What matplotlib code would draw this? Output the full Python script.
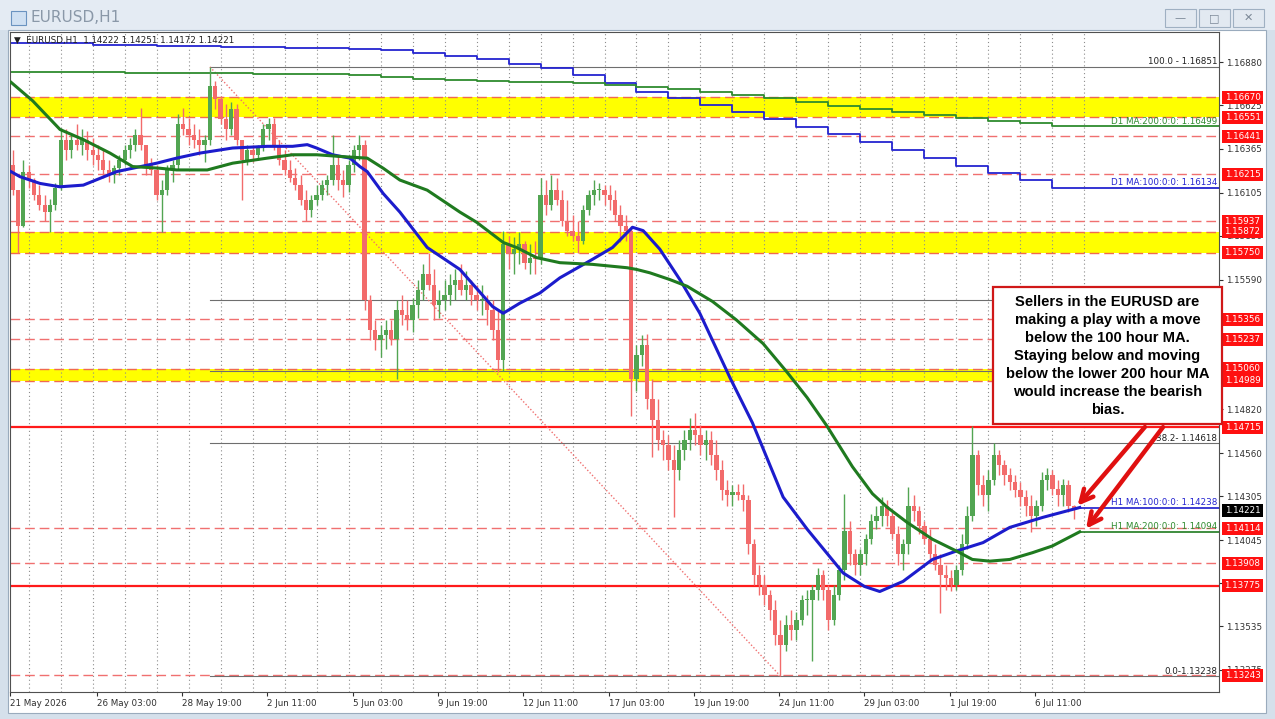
import numpy as np
import matplotlib.pyplot as plt
from matplotlib.patches import Rectangle
import matplotlib.transforms as mtransforms

plt.rcParams['font.family'] = ['DejaVu Sans']

# ---------------------------------------------------------------
# Data (grouped into 4 hour candles,
# open = previous close)
# ---------------------------------------------------------------
firstOpen = 1.1627

highs = [
    1.1636, 1.1612, 1.1630, 1.1627, 1.1619, 1.1615, 1.1609, 1.1607, 1.1616, 1.1649,
    1.1648, 1.1646, 1.1651, 1.1648, 1.1647, 1.1643, 1.1639, 1.1636, 1.1630, 1.1627,
    1.1633, 1.1639, 1.1643, 1.1648, 1.1661, 1.1636, 1.1631, 1.1627, 1.1618, 1.1627,
    1.1630, 1.1657, 1.1661, 1.1655, 1.1651, 1.1648, 1.1645, 1.16851, 1.1677, 1.1668,
    1.1663, 1.1664, 1.1663, 1.1642, 1.1639, 1.1639, 1.1639, 1.1651, 1.1655, 1.1655,
    1.1642, 1.1636, 1.1630, 1.1625, 1.1621, 1.1612, 1.1609, 1.1615, 1.1618, 1.1621,
    1.1645, 1.1633, 1.1624, 1.1630, 1.1639, 1.1645, 1.1642, 1.1550, 1.1535, 1.1532,
    1.1535, 1.1535, 1.1547, 1.1550, 1.1547, 1.1548, 1.1559, 1.1568, 1.1575, 1.1565,
    1.1553, 1.1559, 1.1562, 1.1565, 1.1568, 1.1564, 1.1559, 1.1556, 1.1556, 1.1550,
    1.1547, 1.1541, 1.1588, 1.1585, 1.1584, 1.1587, 1.1582, 1.1580, 1.1582, 1.1619,
    1.1618, 1.1621, 1.1619, 1.1612, 1.1606, 1.1597, 1.1594, 1.1603, 1.1612, 1.1618,
    1.1616, 1.1615, 1.1615, 1.1612, 1.1603, 1.1597, 1.1591, 1.1520, 1.1526, 1.1527,
    1.1500, 1.1488, 1.1470, 1.1467, 1.1461, 1.1464, 1.1470, 1.1477, 1.1480, 1.1473,
    1.1470, 1.1469, 1.1464, 1.1452, 1.1440, 1.1437, 1.1438, 1.1438, 1.1431, 1.1405,
    1.1390, 1.1384, 1.1375, 1.1369, 1.1357, 1.1360, 1.1363, 1.1362, 1.1372, 1.1375,
    1.1378, 1.1388, 1.1387, 1.1378, 1.1378, 1.1390, 1.1432, 1.1416, 1.1399, 1.1399,
    1.1408, 1.1420, 1.1425, 1.1430, 1.1428, 1.1422, 1.1413, 1.1405, 1.1436, 1.1431,
    1.1425, 1.1416, 1.1411, 1.1402, 1.1396, 1.1390, 1.1387, 1.1390, 1.1408, 1.1425,
    1.1472, 1.1458, 1.1443, 1.1446, 1.1462, 1.1458, 1.1452, 1.1447, 1.1443, 1.1439,
    1.1434, 1.1431, 1.1428, 1.1445, 1.1447, 1.1446, 1.1440, 1.1441, 1.1440, 1.14251,
]

lows = [
    1.1609, 1.1575, 1.1590, 1.1613, 1.1606, 1.1600, 1.1594, 1.1587, 1.1600, 1.1612,
    1.1630, 1.1631, 1.1636, 1.1633, 1.1630, 1.1627, 1.1624, 1.1619, 1.1617, 1.1616,
    1.1621, 1.1627, 1.1631, 1.1635, 1.1636, 1.1621, 1.1621, 1.1606, 1.1587, 1.1609,
    1.1617, 1.1624, 1.1645, 1.1639, 1.1637, 1.1633, 1.1629, 1.1639, 1.1660, 1.1651,
    1.1642, 1.1645, 1.1639, 1.1606, 1.1627, 1.1629, 1.1630, 1.1635, 1.1642, 1.1636,
    1.1627, 1.1621, 1.1617, 1.1612, 1.1603, 1.1594, 1.1596, 1.1603, 1.1606, 1.1609,
    1.1615, 1.1612, 1.1608, 1.1611, 1.1623, 1.1630, 1.1541, 1.1523, 1.1517, 1.1513,
    1.1518, 1.1520, 1.1500, 1.1532, 1.1529, 1.1528, 1.1536, 1.1547, 1.1553, 1.1535,
    1.1536, 1.1541, 1.1544, 1.1547, 1.1550, 1.1547, 1.1544, 1.1541, 1.1538, 1.1532,
    1.1523, 1.1504, 1.1505, 1.1565, 1.1562, 1.1568, 1.1565, 1.1562, 1.1562, 1.1568,
    1.1597, 1.1600, 1.1603, 1.1591, 1.1585, 1.1582, 1.1575, 1.1580, 1.1597, 1.1603,
    1.1606, 1.1603, 1.1600, 1.1594, 1.1581, 1.1582, 1.1478, 1.1493, 1.1508, 1.1482,
    1.1454, 1.1458, 1.1452, 1.1446, 1.1418, 1.1440, 1.1452, 1.1458, 1.1461, 1.1455,
    1.1452, 1.1449, 1.1440, 1.1428, 1.1425, 1.1425, 1.1428, 1.1422, 1.1396, 1.1378,
    1.1372, 1.1366, 1.1357, 1.1342, 1.13238, 1.1339, 1.1345, 1.1345, 1.1354, 1.1360,
    1.1333, 1.1369, 1.1369, 1.1351, 1.1354, 1.1369, 1.1381, 1.1390, 1.1384, 1.1384,
    1.1390, 1.1402, 1.1411, 1.1413, 1.1413, 1.1405, 1.1390, 1.1387, 1.1396, 1.1416,
    1.1408, 1.1402, 1.1393, 1.1387, 1.1361, 1.1375, 1.1374, 1.1375, 1.1384, 1.1399,
    1.1416, 1.1431, 1.1425, 1.1422, 1.1437, 1.1443, 1.1437, 1.1434, 1.1430, 1.1425,
    1.1419, 1.1409, 1.1413, 1.1422, 1.1434, 1.1431, 1.1425, 1.1425, 1.1421, 1.14172,
]

closes = [
    1.1612, 1.1591, 1.1623, 1.1618, 1.1609, 1.1603, 1.1599, 1.1603, 1.1613, 1.1642,
    1.1636, 1.1642, 1.1639, 1.1642, 1.1636, 1.1633, 1.1630, 1.1624, 1.1621, 1.1625,
    1.1630, 1.1636, 1.1639, 1.1645, 1.1639, 1.1627, 1.1624, 1.1609, 1.1612, 1.1624,
    1.1627, 1.1651, 1.1648, 1.1645, 1.1642, 1.1639, 1.1642, 1.1674, 1.1666, 1.1654,
    1.1648, 1.1660, 1.1642, 1.1630, 1.1636, 1.1633, 1.1637, 1.1648, 1.1651, 1.1639,
    1.1630, 1.1624, 1.1619, 1.1615, 1.1606, 1.1600, 1.1606, 1.1609, 1.1615, 1.1618,
    1.1627, 1.1618, 1.1615, 1.1627, 1.1636, 1.1639, 1.1547, 1.1529, 1.1523, 1.1526,
    1.1529, 1.1524, 1.1541, 1.1538, 1.1535, 1.1544, 1.1553, 1.1562, 1.1556, 1.1544,
    1.1547, 1.1550, 1.1556, 1.1559, 1.1553, 1.1556, 1.1550, 1.1547, 1.1547, 1.1541,
    1.1529, 1.1511, 1.1580, 1.1574, 1.1577, 1.1580, 1.1569, 1.1572, 1.1571, 1.1609,
    1.1603, 1.1612, 1.1606, 1.1594, 1.1588, 1.1585, 1.1582, 1.1600, 1.1609, 1.1612,
    1.1612, 1.1609, 1.1606, 1.1597, 1.1591, 1.1588, 1.1500, 1.1514, 1.1520, 1.1488,
    1.1476, 1.1464, 1.1461, 1.1452, 1.1446, 1.1458, 1.1464, 1.1470, 1.1467, 1.1461,
    1.1464, 1.1455, 1.1446, 1.1434, 1.1431, 1.1433, 1.1431, 1.1428, 1.1402, 1.1384,
    1.1378, 1.1372, 1.1363, 1.1348, 1.1342, 1.1354, 1.1351, 1.1357, 1.1369, 1.1369,
    1.1375, 1.1384, 1.1375, 1.1357, 1.1372, 1.1387, 1.1410, 1.1396, 1.1390, 1.1396,
    1.1405, 1.1416, 1.1419, 1.1425, 1.1419, 1.1408, 1.1396, 1.1402, 1.1425, 1.1422,
    1.1413, 1.1405, 1.1396, 1.1390, 1.1384, 1.1382, 1.1378, 1.1387, 1.1402, 1.1419,
    1.1455, 1.1437, 1.1431, 1.1440, 1.1455, 1.1449, 1.1443, 1.1439, 1.1434, 1.1430,
    1.1425, 1.1419, 1.1425, 1.1440, 1.1443, 1.1435, 1.1431, 1.1437, 1.1425, 1.14221,
]

# H1 moving averages, (hour from chart start, price)
ma100Hours = [0.75, 7.5, 22.5, 37.5, 55, 80, 110, 125, 142.5, 167, 193, 212, 223, 230,
              242, 255, 262.5, 268, 280, 292.5, 313, 337.5, 362, 370, 382.5, 397.5,
              412.5, 437, 452, 467, 475, 487.5, 502.5, 517.5, 540, 557, 580, 598, 625,
              641, 652.5, 670, 692, 710, 730, 750, 775, 802.5]
ma100Price = [1.1623, 1.1620, 1.1616, 1.1614, 1.1615, 1.1623, 1.1628, 1.1631, 1.1634,
              1.1637, 1.1638, 1.1638, 1.1639, 1.1637, 1.1633, 1.1631, 1.1626, 1.1623,
              1.1610, 1.1599, 1.1578, 1.1565, 1.1543, 1.1539, 1.1545, 1.1551, 1.1560,
              1.1571, 1.1578, 1.1590, 1.1588, 1.1577, 1.1559, 1.1539, 1.1501, 1.1474,
              1.1430, 1.1411, 1.1385, 1.1377, 1.1374, 1.1380, 1.1393, 1.1398, 1.1403,
              1.1412, 1.1418, 1.14238]

ma200Hours = [0.75, 17, 37.5, 55, 75, 92, 112.5, 125, 148, 167, 193, 212, 230, 247.5,
              268, 280, 292.5, 313, 337.5, 350, 370, 380, 395, 412.5, 437, 463, 470,
              480, 495, 508, 527, 545, 565, 583, 598, 613, 632, 647, 658, 673, 692,
              710, 722, 735, 750, 767, 782, 802.5]
ma200Price = [1.1676, 1.1665, 1.1648, 1.1642, 1.1634, 1.1626, 1.1625, 1.1624, 1.1624,
              1.1628, 1.1631, 1.1633, 1.1633, 1.1632, 1.1631, 1.1625, 1.1618, 1.1612,
              1.1599, 1.1593, 1.1581, 1.1578, 1.1572, 1.1569, 1.1568, 1.1566, 1.1565,
              1.1563, 1.1559, 1.1555, 1.1546, 1.1535, 1.1521, 1.1504, 1.1489, 1.1472,
              1.1448, 1.1432, 1.1424, 1.1415, 1.1405, 1.1398, 1.1393, 1.1392, 1.1393,
              1.1397, 1.1401, 1.14094]

# daily moving averages, one value per trading day
d1Ma100 = [1.16990, 1.16990, 1.16990, 1.16980, 1.16980, 1.16975, 1.16975, 1.16970,
           1.16970, 1.16966, 1.16966, 1.16960, 1.16952, 1.16932, 1.16916, 1.16898,
           1.16870, 1.16843, 1.16801, 1.16754, 1.16704, 1.16665, 1.16625, 1.16586,
           1.16542, 1.16497, 1.16453, 1.16404, 1.16359, 1.16309, 1.16266, 1.16224,
           1.16181, 1.16134]
d1Ma200 = [1.16821, 1.16821, 1.16819, 1.16818, 1.16817, 1.16815, 1.16814, 1.16812,
           1.16810, 1.16809, 1.16806, 1.16803, 1.16790, 1.16781, 1.16772, 1.16768,
           1.16763, 1.16760, 1.16754, 1.16744, 1.16730, 1.16718, 1.16704, 1.16685,
           1.16665, 1.16641, 1.16621, 1.16602, 1.16586, 1.16564, 1.16547, 1.16530,
           1.16517, 1.16499]

# drawn levels
yellowBands = [(1.16551, 1.16670), (1.15750, 1.15872), (1.14989, 1.15060)]
dashedLevels = [1.16441, 1.16215, 1.15937, 1.15356, 1.15237, 1.14114, 1.13908, 1.13243]
solidLevels = [1.14715, 1.13775]
# 61.8 and 50.0 labels sit behind the note box, so only their lines show
fibLevels = [1.16851, 1.15471, 1.15045, 1.14618, 1.13238]
fibTexts = ['100.0 - 1.16851', '', '', '38.2- 1.14618', '0.0-1.13238']
redLabels = [1.16670, 1.16551, 1.16441, 1.16215, 1.15937, 1.15872, 1.15750, 1.15356,
             1.15237, 1.15060, 1.14989, 1.14715, 1.14114, 1.13908, 1.13775, 1.13243]
lastPrice = 1.14221

priceTicks = [1.16880, 1.16625, 1.16365, 1.16105, 1.15850, 1.15590, 1.15335, 1.15080,
              1.14820, 1.14560, 1.14305, 1.14045, 1.13790, 1.13535, 1.13275]
dateTickHours = [0, 65, 129, 193, 257, 321, 385, 449, 513, 577, 641, 705, 769]
dateTicks = ['21 May 2026', '26 May 03:00', '28 May 19:00', '2 Jun 11:00', '5 Jun 03:00',
             '9 Jun 19:00', '12 Jun 11:00', '17 Jun 03:00', '19 Jun 19:00', '24 Jun 11:00',
             '29 Jun 03:00', '1 Jul 19:00', '6 Jul 11:00']

noteText = ("Sellers in the EURUSD are\nmaking a play with a move\nbelow the 100 hour MA.\n"
            "Staying below and moving\nbelow the lower 200 hour MA\nwould increase the bearish\nbias.")

# ---------------------------------------------------------------
W, H = 1275, 719
xMax = 907
yMin, yMax = 1.13144, 1.17058

fig = plt.figure(figsize=(W / 100, H / 100), dpi=100)
fig.patch.set_facecolor('#d5e0eb')

def fx(px):
    return px / W

def fy(py):
    return 1 - py / H

# window chrome
fig.add_artist(Rectangle((0, fy(30)), 1, 30 / H, transform=fig.transFigure,
                         fc='#e4ebf3', ec='none', zorder=0))
fig.add_artist(Rectangle((fx(8), fy(713)), fx(1258), (713 - 30) / H, transform=fig.transFigure,
                         fc='white', ec='#9aabbd', lw=0.8, zorder=0))
fig.add_artist(Rectangle((fx(11), fy(25)), fx(15), 14 / H, transform=fig.transFigure,
                         fc='#cfe0f2', ec='#6a93c0', lw=0.8, zorder=1))
fig.text(fx(31), fy(18), 'EURUSD,H1', fontsize=11, color='#8a98a8', va='center')
for bx, glyph in [(1165, '\u2014'), (1199, '\u25a1'), (1233, '\u2715')]:
    fig.add_artist(Rectangle((fx(bx), fy(27)), fx(31), 18 / H, transform=fig.transFigure,
                             fc='#e2e9f1', ec='#9fb0c2', lw=0.8, zorder=1))
    fig.text(fx(bx + 15.5), fy(18), glyph, fontsize=8, color='#7a8796',
             ha='center', va='center', zorder=2)

ax = fig.add_axes([fx(10), fy(692), fx(1209), (692 - 32) / H])
ax.set_facecolor('white')
ax.set_xlim(0, xMax)
ax.set_ylim(yMin, yMax)
for s in ax.spines.values():
    s.set_color('#505050')
    s.set_linewidth(0.8)

# day separators
for h in range(14, 807, 24):
    ax.axvline(h, color='#8c8c8c', lw=0.8, ls=(0, (1, 2.5)), zorder=1.2)

# levels
for lo, hi in yellowBands:
    ax.axhspan(lo, hi, color='#ffff00', lw=0, zorder=1)
    for p in (lo, hi):
        ax.axhline(p, color='#f06a50', lw=1, ls=(0, (7, 3.5)), zorder=1.5)
for p in dashedLevels:
    ax.axhline(p, color='#f07070', lw=1, ls=(0, (7, 3.5)), zorder=1.5)
for p in solidLevels:
    ax.axhline(p, color='#ff1a1a', lw=1.6, zorder=1.6)

# candles
o = np.array([firstOpen] + closes[:-1])
c = np.array(closes)
hi = np.maximum(np.array(highs), np.maximum(o, c))
lo = np.minimum(np.array(lows), np.minimum(o, c))
x = 4 * np.arange(len(c)) + 2
cols = np.where(c >= o, '#52a552', '#f26b6b')
ax.vlines(x, lo, hi, colors=cols, lw=1.0, zorder=3)
ax.bar(x, np.maximum(np.abs(c - o), 0.00004), bottom=np.minimum(o, c), width=3.2,
       color=cols, lw=0, zorder=3)

# fibonacci from the high bar to the low bar
iHigh = int(np.argmax(hi))
iLow = int(np.argmin(lo))
for p, t in zip(fibLevels, fibTexts):
    ax.plot([x[iHigh], xMax], [p, p], color='#6e6e6e', lw=0.8, zorder=1.7)
    if t:
        ax.text(xMax - 1.5, p + 0.00003, t, ha='right', va='bottom', fontsize=6.3,
                color='#202020', zorder=2)
ax.plot([x[iHigh], x[iLow]], [fibLevels[0], fibLevels[-1]], color='#f07070',
        lw=1, ls=(0, (1, 1.5)), zorder=1.8)

# daily MAs (step lines)
dayHours = [0] + list(range(14, 783, 24))
ax.step(dayHours + [xMax], d1Ma100 + [d1Ma100[-1]], where='post', color='#2424d0', lw=1.3, zorder=2)
ax.step(dayHours + [xMax], d1Ma200 + [d1Ma200[-1]], where='post', color='#2e8b2e', lw=1.3, zorder=2)
ax.text(xMax - 1.5, d1Ma200[-1] + 0.00003, 'D1 MA:200:0:0: 1.16499', ha='right', va='bottom',
        fontsize=6.3, color='#2e8b2e', zorder=2)
ax.text(xMax - 1.5, d1Ma100[-1] + 0.00003, 'D1 MA:100:0:0: 1.16134', ha='right', va='bottom',
        fontsize=6.3, color='#2424d0', zorder=2)

# hourly MAs
ax.plot(ma100Hours, ma100Price, color='#1c1ccc', lw=2.2, zorder=4, solid_joinstyle='round')
ax.plot(ma200Hours, ma200Price, color='#1f7a1f', lw=2.2, zorder=4, solid_joinstyle='round')
ax.plot([ma100Hours[-1], xMax], [ma100Price[-1]] * 2, color='#1c1ccc', lw=1.2, zorder=4)
ax.plot([ma200Hours[-1], xMax], [ma200Price[-1]] * 2, color='#1f7a1f', lw=1.2, zorder=4)
ax.text(xMax - 1.5, ma100Price[-1] + 0.00003, 'H1 MA:100:0:0: 1.14238', ha='right', va='bottom',
        fontsize=6.3, color='#2424d0', zorder=4)
ax.text(xMax - 1.5, ma200Price[-1] + 0.00003, 'H1 MA:200:0:0: 1.14094', ha='right', va='bottom',
        fontsize=6.3, color='#2e8b2e', zorder=4)

# header line inside the chart
ax.text(0.003, 1 - 8 / 660, '\u25bc  EURUSD,H1  1.14222 1.14251 1.14172 1.14221',
        transform=ax.transAxes, fontsize=6.3, color='#202020', va='center', zorder=6)

# axes ticks
ax.yaxis.tick_right()
ax.set_yticks(priceTicks)
ax.set_yticklabels(['%.5f' % p for p in priceTicks])
ax.tick_params(axis='y', labelsize=6.3, length=3, pad=2, colors='#303030')
ax.set_xticks(dateTickHours)
ax.set_xticklabels(dateTicks, ha='left')
ax.tick_params(axis='x', labelsize=6.3, length=3, pad=2, colors='#303030')

# price labels on the right scale: fixed size boxes that hide the scale under them
trans = mtransforms.blended_transform_factory(ax.transAxes, ax.transData)
boxW = 41 / 1209
halfH = 6.5 / 660 * (yMax - yMin)

def priceTag(p, colour):
    ax.add_patch(Rectangle((1.0025, p - halfH), boxW, 2 * halfH, transform=trans,
                           fc=colour, ec='none', clip_on=False, zorder=8))
    ax.text(1.0025 + boxW / 2, p, '%.5f' % p, transform=trans, fontsize=6.3, color='white',
            va='center', ha='center', clip_on=False, zorder=9)

for p in redLabels:
    priceTag(p, '#ff1010')
priceTag(lastPrice, 'black')

# note box and arrows
fig.add_artist(Rectangle((fx(993), fy(424)), fx(229), 137 / H, transform=fig.transFigure,
                         fc='white', ec='#d01818', lw=1.6, zorder=5))
fig.text(fx(1107.5), fy(356), noteText, ha='center', va='center', fontsize=10.6,
         fontweight='bold', family='Liberation Sans', linespacing=1.36, zorder=6)
arrowStyle = dict(arrowstyle='->', color='#e01010', lw=3.2, mutation_scale=22)
ax.annotate('', xy=(799.5, 1.14236), xytext=(852.75, 1.14728), arrowprops=arrowStyle,
            annotation_clip=False, zorder=7)
ax.annotate('', xy=(806, 1.14099), xytext=(866.25, 1.14728), arrowprops=arrowStyle,
            annotation_clip=False, zorder=7)

fig.savefig('out.png', dpi=100, facecolor=fig.get_facecolor())
